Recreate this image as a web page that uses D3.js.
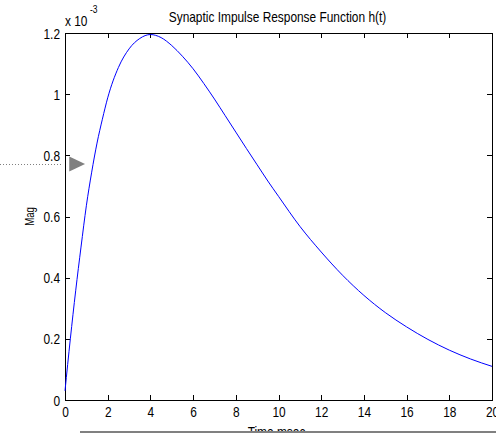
<!DOCTYPE html>
<html>
<head>
<meta charset="utf-8">
<script src="https://cdn.jsdelivr.net/npm/d3@7"></script>
<style>
  html, body { margin: 0; padding: 0; background: #fff; }
  svg { display: block; }
  text { font-family: "Liberation Sans", Arial, Helvetica, sans-serif; fill: #000; }
</style>
</head>
<body>
<svg id="chart" width="496" height="433"></svg>
<script>
// ---- data ----
const timeMs = [0, 0.25, 0.5, 0.75, 1, 1.25, 1.5, 1.75, 2, 2.5, 3, 3.5, 4, 4.5, 5, 5.5, 6, 6.5, 7, 7.5, 8, 8.5, 9, 9.5, 10, 11, 12, 13, 14, 15, 16, 17, 18, 19, 20];
const magE3  = [0.03, 0.2, 0.357, 0.50, 0.635, 0.745, 0.84, 0.918, 0.988, 1.087, 1.148, 1.182, 1.195, 1.185, 1.159, 1.124, 1.083, 1.035, 0.984, 0.93, 0.876, 0.822, 0.769, 0.716, 0.666, 0.568, 0.484, 0.408, 0.342, 0.286, 0.239, 0.198, 0.163, 0.134, 0.11];
const xTicks = [0, 2, 4, 6, 8, 10, 12, 14, 16, 18, 20];
const yTicks = [0, 0.2, 0.4, 0.6, 0.8, 1, 1.2];
const xTickLabels = ["0", "2", "4", "6", "8", "10", "12", "14", "16", "18", "20"];
const yTickLabels = ["0", "0.2", "0.4", "0.6", "0.8", "1", "1.2"];
const titleText = "Synaptic Impulse Response Function h(t)";
const xLabelText = "Time msec";
const yLabelText = "Mag";
const markerMag = [0.772];          // dotted pointer level
const markerTime = [0.2, 0.94];     // triangle start/end in time units

// ---- layout ----
const svg = d3.select("#chart");
const L = 65, R = 492, T = 33, B = 400;
const SX = 0.85;

const x = d3.scaleLinear().domain([0, 20]).range([L, R]);
const y = d3.scaleLinear().domain([0, 1.2]).range([B, T]);

function styleAxis(g) {
  g.selectAll(".domain").attr("stroke", "#000").attr("shape-rendering", "crispEdges");
  g.selectAll(".tick line").attr("stroke", "#000").attr("shape-rendering", "crispEdges");
}

// bottom axis
const gB = svg.append("g").attr("transform", `translate(0,${B})`)
  .call(d3.axisBottom(x).tickValues(xTicks).tickSizeInner(-5).tickSizeOuter(0)
    .tickFormat((d, i) => xTickLabels[i]));
styleAxis(gB);
gB.selectAll(".tick text")
  .attr("y", 17).attr("dy", null)
  .attr("font-size", 14).attr("font-family", null)
  .attr("transform", `scale(${SX},1)`);

// top axis
const gT = svg.append("g").attr("transform", `translate(0,${T})`)
  .call(d3.axisTop(x).tickValues(xTicks).tickSizeInner(-5).tickSizeOuter(0).tickFormat(""));
styleAxis(gT);

// left axis
const gL = svg.append("g").attr("transform", `translate(${L},0)`)
  .call(d3.axisLeft(y).tickValues(yTicks).tickSizeInner(-5).tickSizeOuter(0)
    .tickFormat((d, i) => yTickLabels[i]));
styleAxis(gL);
gL.selectAll(".tick text")
  .attr("x", -5 / SX).attr("dy", null).attr("y", 5)
  .attr("font-size", 14).attr("font-family", null)
  .attr("transform", `scale(${SX},1)`);

// right axis
const gR = svg.append("g").attr("transform", `translate(${R},0)`)
  .call(d3.axisRight(y).tickValues(yTicks).tickSizeInner(-5).tickSizeOuter(0).tickFormat(""));
styleAxis(gR);

// curve
const line = d3.line()
  .x((d, i) => x(timeMs[i]))
  .y(d => y(d))
  .curve(d3.curveMonotoneX);
svg.append("path")
  .datum(magE3)
  .attr("d", line)
  .attr("fill", "none")
  .attr("stroke", "#0000ff")
  .attr("stroke-width", 1);

// title
svg.append("text")
  .attr("transform", `translate(${(L + R) / 2 - 1},22) scale(${SX},1)`)
  .attr("text-anchor", "middle").attr("font-size", 14)
  .text(titleText);

// exponent label
svg.append("text")
  .attr("transform", `translate(${L},26) scale(${SX},1)`)
  .attr("font-size", 14)
  .text("x 10");
svg.append("text")
  .attr("transform", `translate(${L + 25},13) scale(${SX},1)`)
  .attr("font-size", 10)
  .text("-3");

// y label
svg.append("text")
  .attr("transform", `translate(34,${(T + B) / 2}) rotate(-90) scale(0.8,1)`)
  .attr("text-anchor", "middle").attr("font-size", 12)
  .text(yLabelText);

// x label (mostly hidden below the bottom bar, as in the reference)
svg.append("text")
  .attr("transform", `translate(${(L + R) / 2 - 2},437) scale(${SX},1)`)
  .attr("text-anchor", "middle").attr("font-size", 14)
  .text(xLabelText);

// pointer: dotted line + gray triangle
const my = y(markerMag[0]);
svg.append("line")
  .attr("x1", 0).attr("x2", L - 2)
  .attr("y1", Math.round(my) + 0.5).attr("y2", Math.round(my) + 0.5)
  .attr("stroke", "#808080").attr("stroke-width", 1)
  .attr("stroke-dasharray", "1,2");
const tx0 = x(markerTime[0]), tx1 = x(markerTime[1]);
svg.append("path")
  .attr("d", `M${tx0},${my - 7.5}L${tx1},${my}L${tx0},${my + 7.5}Z`)
  .attr("fill", "#808080");

// bottom bar
svg.append("line")
  .attr("x1", 80).attr("x2", 496)
  .attr("y1", 432).attr("y2", 432)
  .attr("stroke", "#808080").attr("stroke-width", 2);
</script>
</body>
</html>
